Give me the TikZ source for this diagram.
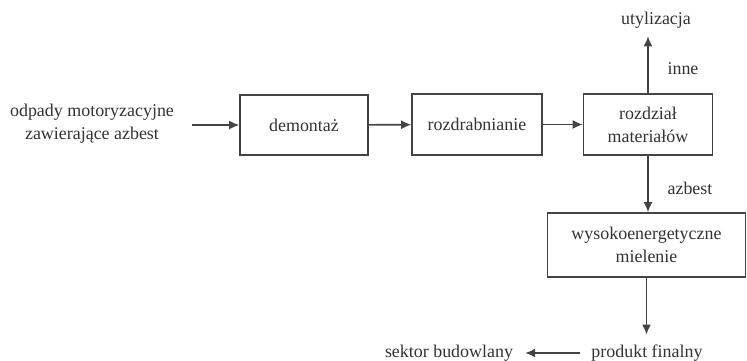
\documentclass[tikz,border=0pt]{standalone}
\usepackage{fontspec}
\setmainfont{Liberation Serif}
\newfontfamily\timesx{Liberation Serif}
\usetikzlibrary{arrows.meta}
\definecolor{ink}{HTML}{333333}
\definecolor{lin}{HTML}{444444}
\begin{document}
\begin{tikzpicture}[x=1bp,y=-1bp,
  every node/.style={text=ink,font=\timesx\fontsize{18}{23}\selectfont,inner sep=0pt},
  box/.style={draw=lin,line width=1.6bp,align=center,anchor=center},
  lbl/.style={align=center},
  flow/.style={draw=lin,line width=1.6bp,-{Latex[length=10bp,width=9bp]}}]
\fill[white] (0,0) rectangle (747,360);
\useasboundingbox (0,0) rectangle (747,360);
\node[lbl] (in) at (92,124) {odpady motoryzacyjne\\zawierające azbest};
\node[box,minimum width=128bp,minimum height=60bp] (dem) at (304,125) {demontaż};
\node[box,minimum width=130bp,minimum height=61bp] (roz) at (477,124.5) {rozdrabnianie};
\node[box,minimum width=129bp,minimum height=61bp] (sep) at (648,124.5) {rozdział\\materiałów};
\node[box,minimum width=198bp,minimum height=64bp] (mil) at (646.5,245) {wysokoenergetyczne\\mielenie};
\node[lbl] (uty) at (656,20) {utylizacja};
\node[lbl] (inne) at (683,69) {inne};
\node[lbl] (azb) at (690,188) {azbest};
\node[lbl] (prod) at (647,353) {produkt finalny};
\node[lbl] (sek) at (449,353) {sektor budowlany};
\draw[flow,shorten <=18bp] (in.east |- dem.west) -- (dem.west);
\draw[flow] (dem) -- (roz);
\draw[flow] (roz) -- (sep);
\draw[flow,shorten >=8bp] (sep.north) -- (sep.north |- uty.south);
\draw[flow] (sep.south) -- (sep.south |- mil.north);
\draw[flow,shorten >=10bp] (mil.south) -- (mil.south |- prod.north);
\draw[flow,shorten <=11bp,shorten >=12bp] (prod.west) -- (sek.east);
\end{tikzpicture}
\end{document}
